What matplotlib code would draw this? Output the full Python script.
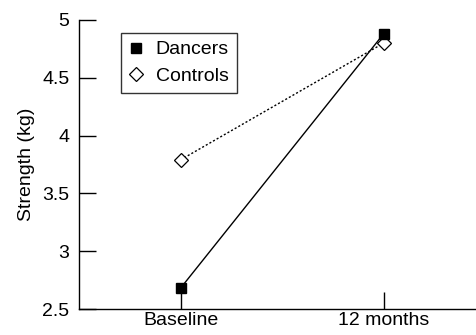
import matplotlib
matplotlib.use("Agg")
import matplotlib.pyplot as plt

plt.rcParams['font.family'] = ['Liberation Sans', 'DejaVu Sans']

times = ['Baseline', '12 months']
dancers = [2.68, 4.88]
controls = [3.79, 4.80]

fig = plt.figure(figsize=(4.77, 3.35), dpi=100)
ax = fig.add_axes([0.1656, 0.0776, 0.8344, 0.8627])

xs = range(len(times))
ax.plot(xs, controls, color='black', linestyle=(0, (1.5, 1.5)), linewidth=1,
        marker='D', markersize=7, markerfacecolor='white', markeredgecolor='black',
        markeredgewidth=0.9, label='Controls', zorder=2)
ax.plot(xs, dancers, color='black', linestyle='-', linewidth=1,
        marker='s', markersize=7.5, markerfacecolor='black', markeredgecolor='black',
        label='Dancers', zorder=3)

ax.set_xlim(-0.5, 1.46)
ax.set_ylim(2.5, 5)
ax.set_xticks(list(xs))
ax.set_xticklabels(times)
ax.set_yticks([2.5, 3, 3.5, 4, 4.5, 5])
ax.set_yticklabels(['2.5', '3', '3.5', '4', '4.5', '5'])
ax.tick_params(direction='in', length=12, width=1, labelsize=14, colors='black', pad=7)
ax.tick_params(axis='x', pad=2)
for s in ['top', 'right']:
    ax.spines[s].set_visible(False)
for s in ['left', 'bottom']:
    ax.spines[s].set_linewidth(1)
ax.set_ylabel('Strength (kg)', fontsize=14, labelpad=5)

h, l = ax.get_legend_handles_labels()
leg = ax.legend(h[::-1], l[::-1], loc='upper left', bbox_to_anchor=(0.105, 0.955),
                fontsize=14, frameon=True, fancybox=False, edgecolor='black',
                handlelength=0.8, handletextpad=0.6, borderpad=0.4, labelspacing=0.45,
                borderaxespad=0)
for line in leg.get_lines():
    line.set_linestyle('none')
leg.get_frame().set_linewidth(1)

fig.savefig('out.png', dpi=100)
